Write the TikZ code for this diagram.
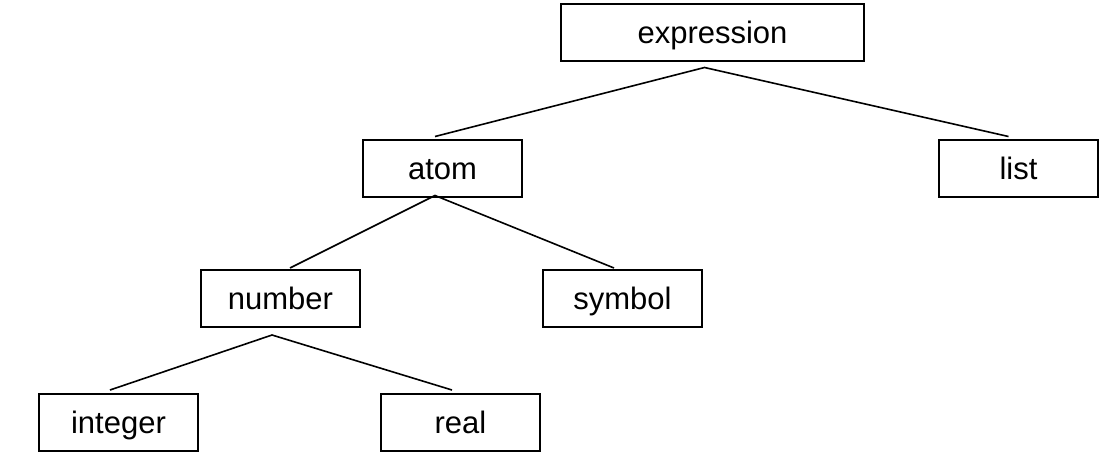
\documentclass[tikz,border=0pt]{standalone}
\usepackage{fontspec}
\setmainfont{Liberation Sans}
\begin{document}
\begin{tikzpicture}[x=1pt,y=-1pt,
  box/.style={draw, line width=2pt, inner sep=0pt, minimum height=57pt,
    text height=28pt, text depth=6pt, font=\fontsize{31}{37}\selectfont},
  smallbox/.style={box, minimum width=159pt},
  bigbox/.style={box, minimum width=303pt},
  edge/.style={line width=1.6pt}]
\useasboundingbox (0,0) rectangle (1108,464);
\node[bigbox] (e) at (712.5,32) {expression};
\node[smallbox] (a) at (442.5,168) {atom};
\node[smallbox] (l) at (1018.5,168) {list};
\node[smallbox] (n) at (280.5,298.5) {number};
\node[smallbox] (s) at (622.5,298.5) {symbol};
\node[smallbox] (i) at (118.5,422.5) {integer};
\node[smallbox] (r) at (460.5,422.5) {real};
% apex points
\coordinate (ep) at ([xshift=-8pt,yshift=-6pt]e.south);
\coordinate (ap) at ([xshift=-7.5pt,yshift=2pt]a.south);
\coordinate (np) at ([xshift=-8.5pt,yshift=-7pt]n.south);
% end points
\coordinate (at) at ([xshift=-7.5pt,yshift=2pt]a.north);
\coordinate (lt) at ([xshift=-10pt,yshift=2pt]l.north);
\coordinate (nt) at ([xshift=9.5pt,yshift=1pt]n.north);
\coordinate (st) at ([xshift=-8.5pt,yshift=1pt]s.north);
\coordinate (it) at ([xshift=-8.5pt,yshift=3pt]i.north);
\coordinate (rt) at ([xshift=-8.5pt,yshift=3pt]r.north);
\draw[edge] (at) -- (ep) -- (lt);
\draw[edge] (nt) -- (ap) -- (st);
\draw[edge] (it) -- (np) -- (rt);
\end{tikzpicture}
\end{document}
